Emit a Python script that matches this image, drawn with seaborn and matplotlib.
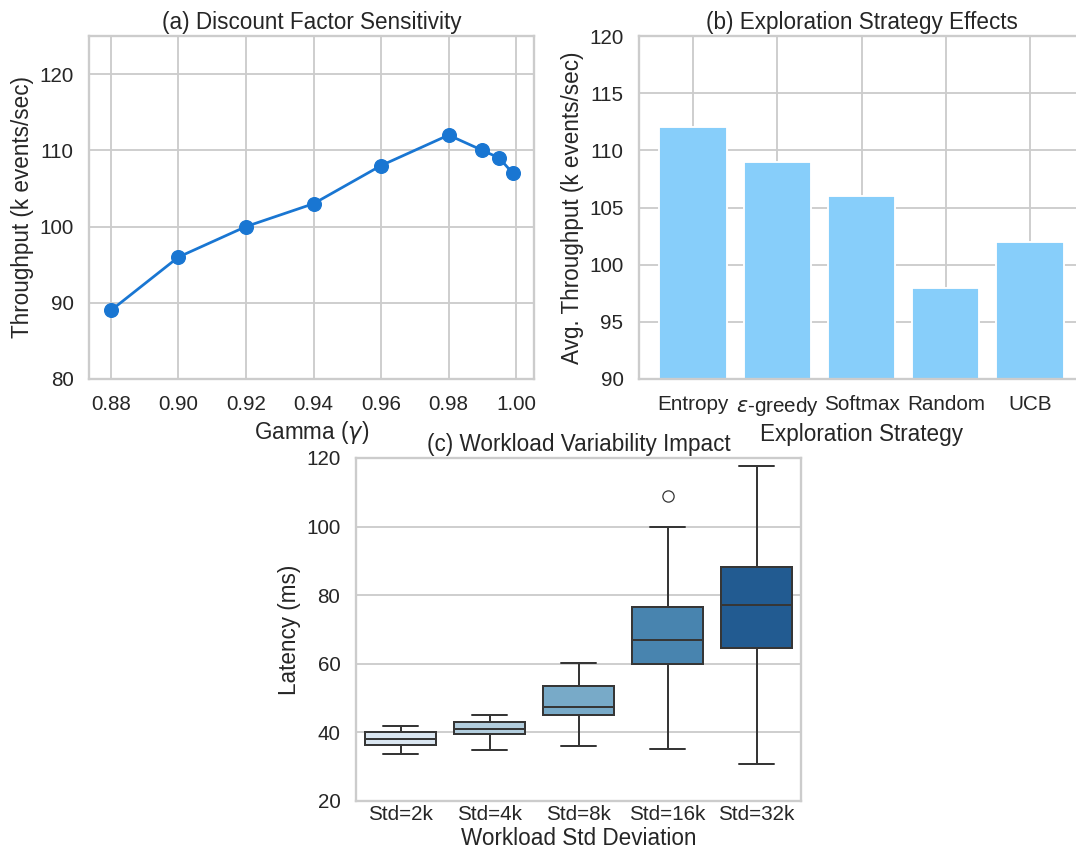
import numpy as np
import pandas as pd
import matplotlib
matplotlib.use("Agg")
import matplotlib.pyplot as plt
import seaborn as sns

# ---- data ----
gamma = [0.88, 0.90, 0.92, 0.94, 0.96, 0.98, 0.99, 0.995, 0.999]
throughput = [89, 96, 100, 103, 108, 112, 110, 109, 107]

strategies = ["Entropy", r"$\varepsilon$-greedy", "Softmax", "Random", "UCB"]
avg_throughput = [112, 109, 106, 98, 102]

std_labels = ["Std=2k", "Std=4k", "Std=8k", "Std=16k", "Std=32k"]
lat_2k = [33.8, 36.4, 38.1, 40.2, 41.9]
lat_4k = [34.9, 39.4, 41.1, 42.9, 45.0]
lat_8k = [36.0, 45.0, 47.4, 53.4, 60.1]
lat_16k = [35.3, 50.0, 60.0, 63.0, 66.8, 72.0, 76.5, 100.0, 108.9]
lat_32k = [30.7, 64.7, 77.1, 88.1, 117.6]

sns.set_theme(style="whitegrid", context="talk")
plt.rcParams["font.family"] = ["Liberation Sans", "DejaVu Sans"]

W, H, DPI = 1076, 848, 90
fig = plt.figure(figsize=(W / DPI, H / DPI), dpi=DPI)

def box(x0, y0, x1, y1):
    return [x0 / W, 1 - y1 / H, (x1 - x0) / W, (y1 - y0) / H]

axA = fig.add_axes(box(89, 36, 534, 379))
axB = fig.add_axes(box(639, 36, 1084, 379))
axC = fig.add_axes(box(356, 458, 801, 801))

# (a)
dfa = pd.DataFrame({"gamma": gamma, "tp": throughput})
sns.lineplot(data=dfa, x="gamma", y="tp", ax=axA, color="#1976D2", marker="o",
             markersize=11, markeredgecolor="#1976D2", markeredgewidth=1, linewidth=2.2)
axA.set_ylim(80, 125)
axA.set_yticks([80, 90, 100, 110, 120])
axA.set_xticks([0.88, 0.90, 0.92, 0.94, 0.96, 0.98, 1.00])
axA.set_xticklabels(["0.88", "0.90", "0.92", "0.94", "0.96", "0.98", "1.00"])
axA.set_xlim(0.8735, 1.0053)
axA.set_xlabel(r"Gamma ($\gamma$)")
axA.set_ylabel("Throughput (k events/sec)")
axA.set_title("(a) Discount Factor Sensitivity")

# (b)
dfb = pd.DataFrame({"strategy": strategies, "tp": avg_throughput})
sns.barplot(data=dfb, x="strategy", y="tp", ax=axB, color="#87CEFA", saturation=1, width=0.8)
axB.set_ylim(90, 120)
axB.set_xlim(-0.64, 4.64)
axB.set_xlabel("Exploration Strategy")
axB.set_ylabel("Avg. Throughput (k events/sec)")
axB.set_title("(b) Exploration Strategy Effects")
axB.xaxis.grid(True)

# (c)
rows = []
for lab, vals in zip(std_labels, [lat_2k, lat_4k, lat_8k, lat_16k, lat_32k]):
    for v in vals:
        rows.append((lab, v))
dfc = pd.DataFrame(rows, columns=["std", "lat"])
sns.boxplot(data=dfc, x="std", y="lat", hue="std", palette="Blues", ax=axC,
            legend=False, width=0.8, linewidth=1.6,
            flierprops=dict(marker="o", markerfacecolor="none"))
axC.set_ylim(20, 120)
axC.set_xlim(-0.5, 4.5)
axC.tick_params(axis="x", length=0)
axC.set_xlabel("Workload Std Deviation", labelpad=2)
axC.set_ylabel("Latency (ms)")
axC.set_title("(c) Workload Variability Impact")

fig.savefig("out.png", dpi=DPI)
